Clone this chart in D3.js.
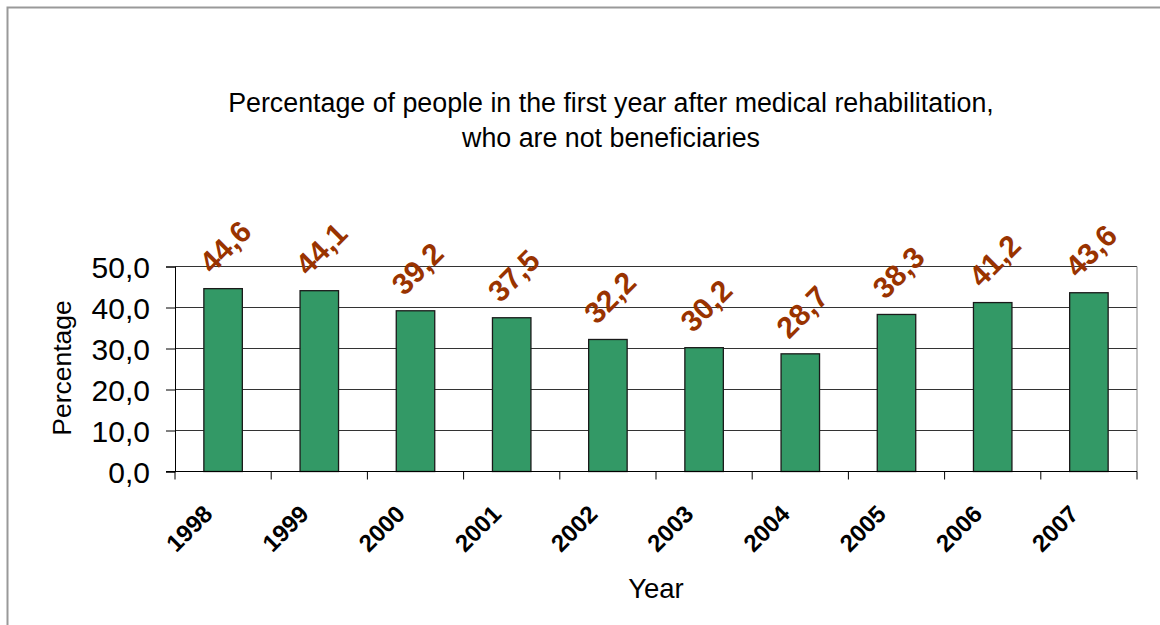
<!DOCTYPE html>
<html>
<head>
<meta charset="utf-8">
<script src="https://cdn.jsdelivr.net/npm/d3@7"></script>
<style>
  body { margin: 0; background: #fff; }
  svg { display: block; font-family: "Liberation Sans", Arial, sans-serif; }
</style>
</head>
<body>
<svg width="1160" height="625"></svg>
<script>
// data
var years = ['1998','1999','2000','2001','2002','2003','2004','2005','2006','2007'];
var values = [44.6, 44.1, 39.2, 37.5, 32.2, 30.2, 28.7, 38.3, 41.2, 43.6];
var yTicks = [0, 10, 20, 30, 40, 50];
var titleLines = ['Percentage of people in the first year after medical rehabilitation,',
                  'who are not beneficiaries'];

const svg = d3.select('svg');
const fmt = d => d.toFixed(1).replace('.', ',');

// outer chart border
svg.append('rect')
  .attr('x', 7.5).attr('y', 7.5)
  .attr('width', 1200).attr('height', 700)
  .attr('fill', 'none')
  .attr('stroke', '#999')
  .attr('stroke-width', 2);

const plotLeft = 175, plotRight = 1137, plotTop = 266.5, plotBottom = 471.5;

var x = d3.scaleBand().domain(years).range([plotLeft, plotRight]).paddingInner(0.6).paddingOuter(0.3);
var band = d3.scaleBand().domain(years).range([plotLeft, plotRight]);
var y = d3.scaleLinear().domain([0, 50]).range([plotBottom, plotTop]);

// title
svg.append('g').selectAll('text')
  .data(titleLines)
  .enter().append('text')
  .attr('x', 611)
  .attr('y', (d, i) => 112 + i * 35)
  .attr('text-anchor', 'middle')
  .style('font-size', '26.8px')
  .text(d => d);

// gridlines
svg.append('g').selectAll('line')
  .data(yTicks.slice(1))
  .enter().append('line')
  .attr('x1', plotLeft).attr('x2', plotRight)
  .attr('y1', d => y(d)).attr('y2', d => y(d))
  .style('stroke', '#333')
  .style('stroke-width', 1);

// right edge of plot area
svg.append('line')
  .attr('x1', plotRight).attr('x2', plotRight)
  .attr('y1', plotTop).attr('y2', plotBottom)
  .style('stroke', '#888');

// bars
svg.append('g').selectAll('rect')
  .data(values)
  .enter().append('rect')
  .attr('x', (d, i) => x(years[i]))
  .attr('y', d => y(d))
  .attr('width', x.bandwidth())
  .attr('height', d => plotBottom - y(d))
  .attr('fill', '#339966')
  .attr('stroke', '#1a1a1a')
  .attr('stroke-width', 1.3);

// y axis
var yAxis = svg.append('g')
  .attr('transform', 'translate(' + plotLeft + ',0)')
  .call(d3.axisLeft(y).tickValues(yTicks).tickFormat(fmt).tickSize(9).tickPadding(16));
yAxis.select('.domain').attr('stroke', '#000');
yAxis.selectAll('text').style('font-size', '30px').style('font-family', '"Liberation Sans", Arial, sans-serif').attr('fill', '#000').attr('dy', '0.36em');

// x axis: ticks at category boundaries
var xAxis = svg.append('g');
xAxis.append('line')
  .attr('x1', plotLeft - 9).attr('x2', plotRight)
  .attr('y1', plotBottom).attr('y2', plotBottom)
  .style('stroke', '#000');
xAxis.selectAll('line.tick')
  .data(years.concat(['end']))
  .enter().append('line')
  .attr('class', 'tick')
  .attr('x1', (d, i) => plotLeft + i * band.bandwidth())
  .attr('x2', (d, i) => plotLeft + i * band.bandwidth())
  .attr('y1', plotBottom).attr('y2', plotBottom + 8)
  .style('stroke', '#000');
xAxis.selectAll('text')
  .data(years)
  .enter().append('text')
  .attr('transform', d => 'translate(' + (band(d) + band.bandwidth() / 2 - 15) + ',' + (plotBottom + 38) + ') rotate(-45)')
  .attr('text-anchor', 'end')
  .attr('dy', '0.35em')
  .style('font-size', '24px')
  .style('font-weight', 'bold')
  .text(d => d);

// value labels
svg.append('g').selectAll('text')
  .data(values)
  .enter().append('text')
  .attr('transform', (d, i) => 'translate(' + (x(years[i]) + x.bandwidth() / 2 + 2) + ',' + (y(d) - 42) + ') rotate(-45)')
  .attr('text-anchor', 'middle')
  .attr('dy', '0.35em')
  .attr('fill', '#993300')
  .style('font-size', '30px')
  .style('font-weight', 'bold')
  .text(fmt);

// axis titles
svg.append('text')
  .attr('transform', 'translate(71,368) rotate(-90)')
  .attr('text-anchor', 'middle')
  .style('font-size', '26.5px')
  .text('Percentage');

svg.append('text')
  .attr('x', 656).attr('y', 598)
  .attr('text-anchor', 'middle')
  .style('font-size', '27.5px')
  .text('Year');
</script>
</body>
</html>
